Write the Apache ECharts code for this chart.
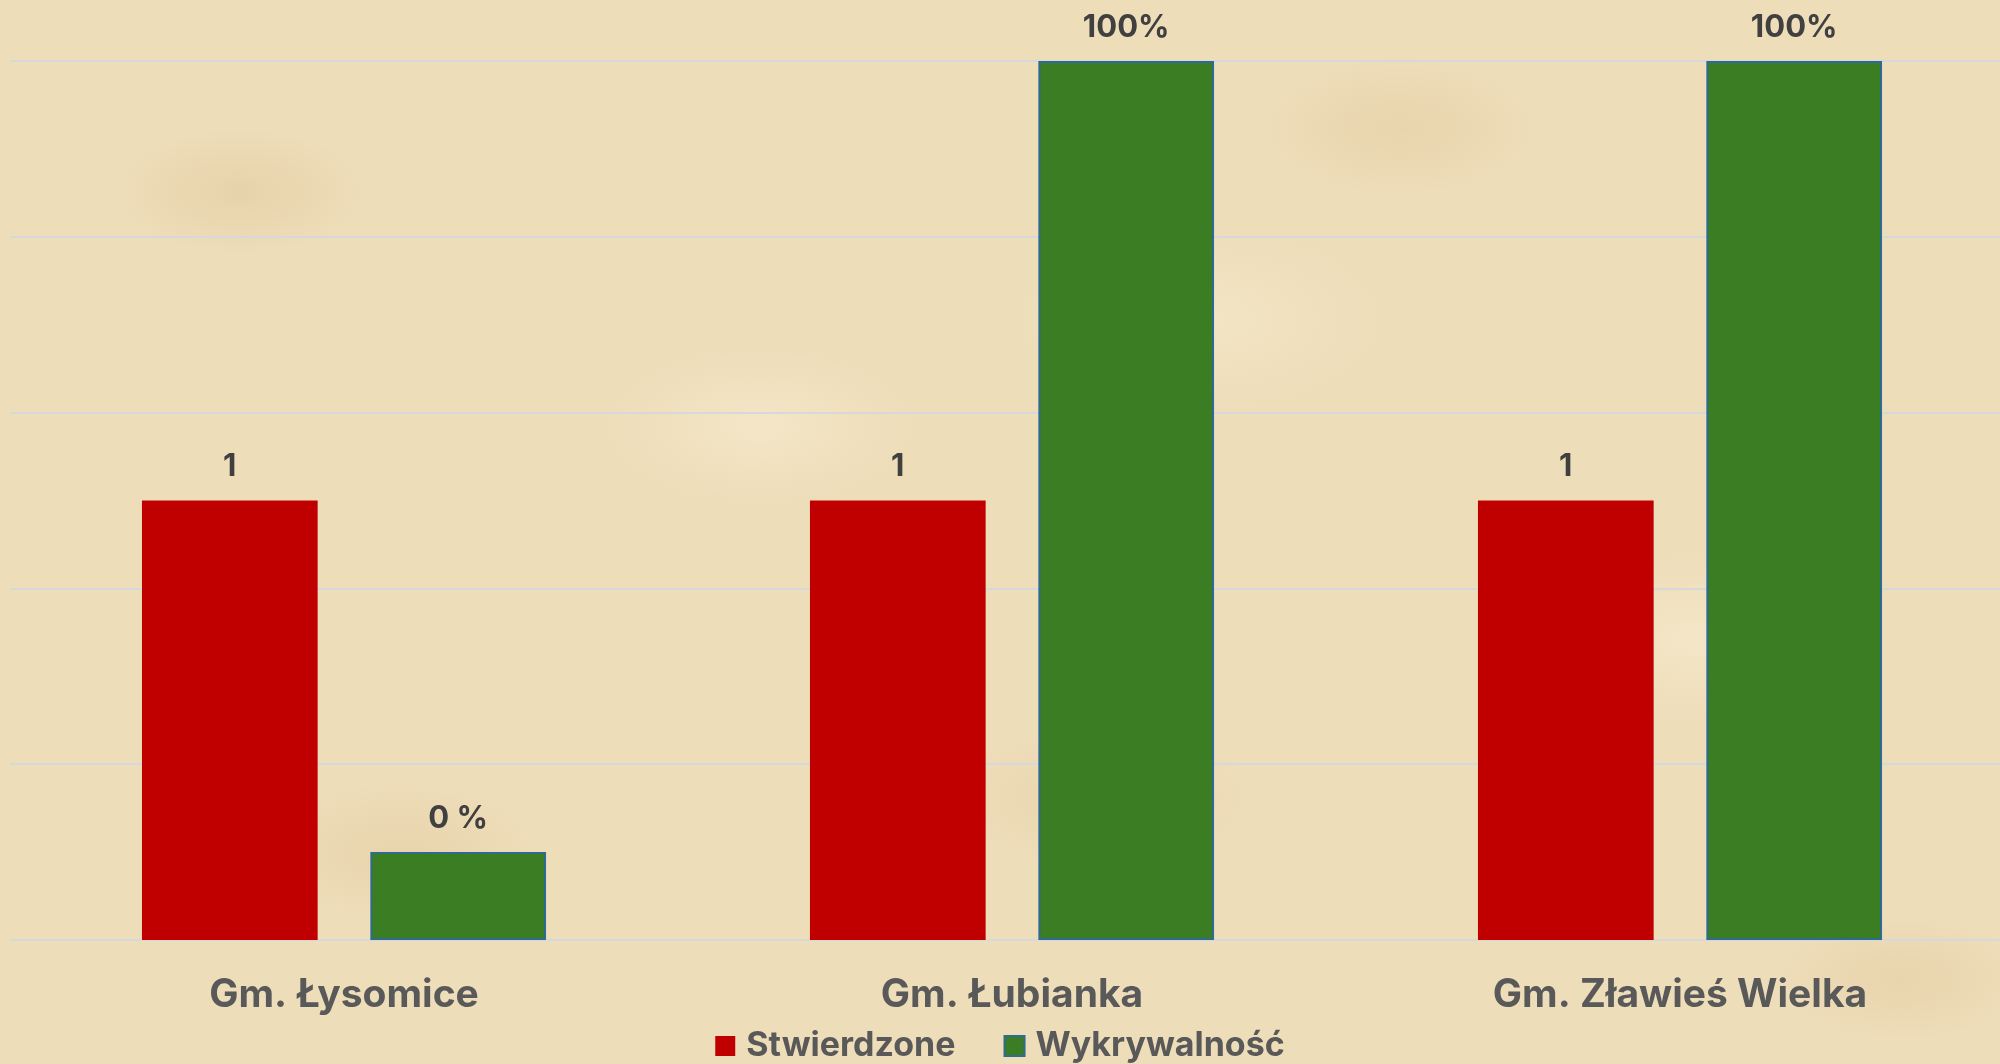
<!DOCTYPE html>
<html>
<head>
<meta charset="utf-8">
<script src="https://cdn.jsdelivr.net/npm/echarts@6/dist/echarts.min.js"></script>
<style>
html,body{margin:0;padding:0;width:2000px;height:1064px;overflow:hidden;}
body{
  background-color:#EEDDB9;
  background-image:
    radial-gradient(ellipse 180px 90px at 12% 18%, rgba(214,186,135,0.30), rgba(214,186,135,0) 70%),
    radial-gradient(ellipse 220px 110px at 38% 40%, rgba(250,240,215,0.45), rgba(250,240,215,0) 70%),
    radial-gradient(ellipse 200px 100px at 70% 12%, rgba(214,186,135,0.25), rgba(214,186,135,0) 70%),
    radial-gradient(ellipse 240px 120px at 85% 60%, rgba(250,240,215,0.45), rgba(250,240,215,0) 70%),
    radial-gradient(ellipse 200px 100px at 20% 80%, rgba(214,186,135,0.25), rgba(214,186,135,0) 70%),
    radial-gradient(ellipse 220px 100px at 55% 75%, rgba(214,186,135,0.22), rgba(214,186,135,0) 70%),
    radial-gradient(ellipse 260px 130px at 60% 30%, rgba(250,240,215,0.40), rgba(250,240,215,0) 70%),
    radial-gradient(ellipse 180px 90px at 95% 92%, rgba(214,186,135,0.25), rgba(214,186,135,0) 70%);
}
#chart{width:2000px;height:1064px;}
</style>
</head>
<body>
<div id="chart"></div>
<script>
const categories = ['Gm. Łysomice', 'Gm. Łubianka', 'Gm. Zławieś Wielka'];
const stwierdzone = [1, 1, 1];
const wykrywalnosc = [0.2, 2, 2];
const wykrywalnoscLabels = ['0 %', '100%', '100%'];
const seriesNames = ['Stwierdzone', 'Wykrywalność'];

const FONT = 'Inter, Liberation Sans, Arial, sans-serif';
const chart = echarts.init(document.getElementById('chart'), null, {renderer: 'canvas'});
const labelStyle = {
  show: true, position: 'top', distance: 18,
  fontFamily: FONT, fontWeight: 'bold',
  fontSize: 31, color: '#404040'
};
chart.setOption({
  backgroundColor: 'transparent',
  animation: false,
  grid: {left: 10, top: 61, width: 2004, bottom: 124, containLabel: false, outerBoundsMode: 'none'},
  legend: {
    data: seriesNames,
    top: 1029, left: 'center', padding: 0,
    icon: 'rect', itemWidth: 20, itemHeight: 20, itemGap: 48,
    textStyle: {fontFamily: FONT, fontWeight: 'bold', fontSize: 34, color: '#595959', padding: [0, 0, 0, 6]}
  },
  xAxis: {
    type: 'category', data: categories,
    axisLine: {show: true, lineStyle: {color: '#D5D8DD', width: 2}},
    axisTick: {show: false},
    axisLabel: {margin: 36, fontFamily: FONT, fontWeight: 'bold', fontSize: 39, color: '#595959'}
  },
  yAxis: {
    type: 'value', min: 0, max: 2, interval: 0.4,
    axisLabel: {show: false}, axisLine: {show: false}, axisTick: {show: false},
    splitLine: {lineStyle: {color: '#D5D8DD', width: 2}}
  },
  series: [
    {
      name: seriesNames[0], type: 'bar', data: stwierdzone,
      barWidth: '26.3%', barGap: '30%',
      itemStyle: {color: '#C00000'},
      label: Object.assign({}, labelStyle)
    },
    {
      name: seriesNames[1], type: 'bar', data: wykrywalnosc,
      barWidth: '26.3%', barGap: '30%',
      itemStyle: {color: '#3A7D22', borderColor: '#2E6A92', borderWidth: 2},
      label: Object.assign({}, labelStyle, {formatter: p => wykrywalnoscLabels[p.dataIndex]})
    }
  ]
});
</script>
</body>
</html>
